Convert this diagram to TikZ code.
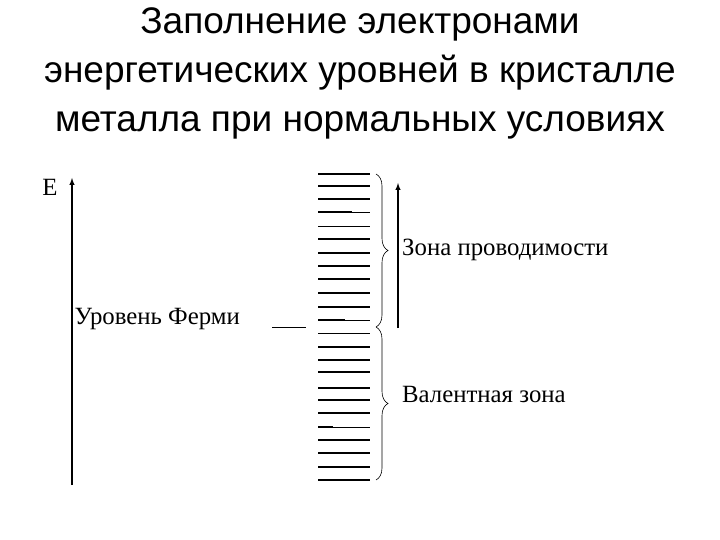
\documentclass[tikz,border=0pt]{standalone}
\usepackage{fontspec}
\setmainfont{Liberation Serif}
\newfontfamily\titlefont{Liberation Sans}
\usetikzlibrary{decorations.pathreplacing}
\begin{document}
\begin{tikzpicture}[x=1pt,y=-1pt,
  lvl/.style={line width=1.6pt},
  thinlvl/.style={line width=0.6pt},
  lbl/.style={font=\fontsize{24.8}{27}\selectfont, inner sep=0pt},
  br/.style={decorate,decoration={brace,amplitude=12pt},line width=0.6pt}]
\useasboundingbox (0,0) rectangle (720,540);
\node[font=\titlefont\fontsize{37}{49}\selectfont, align=center, anchor=north] (title) at (360,4)
  {Заполнение электронами\\энергетических уровней  в кристалле\\металла при нормальных условиях};
\coordinate (a0) at (72,485); \coordinate (a1) at (72,178);
\draw[line width=1.4pt,-latex] (a0) -- (a1);
\node[lbl] (E) at (50,187) {E};
\foreach \y in {174,186,199,239,253,266,279,293,307,347,360,372,388,400,413,440,453,467,480}
  \draw[lvl] (318,\y) -- (370,\y);
\draw[lvl] (318,212) -- (352,212); \draw[thinlvl] (352,212) -- (370,212);
\draw[thinlvl] (318,226) -- (370,226);
\draw[lvl] (318,320) -- (345,320); \draw[thinlvl] (345,320) -- (370,320);
\draw[thinlvl] (318,333) -- (370,333);
\draw[lvl] (318,427) -- (333,427); \draw[thinlvl] (333,427) -- (370,427);
\coordinate (f0) at (272,327); \coordinate (f1) at (306,327);
\draw[thinlvl] (f0) -- (f1);
\node[lbl, anchor=east] (fermi) at (240,319) {Уровень Ферми};
\coordinate (b0) at (376,174); \coordinate (b1) at (376,327); \coordinate (b2) at (376,480);
\draw[br] (b0) -- (b1);
\draw[br] (b1) -- (b2);
\coordinate (r0) at (398,328); \coordinate (r1) at (398,183);
\draw[line width=1.4pt,-latex] (r0) -- (r1);
\node[lbl, anchor=west] (cond) at (402,250) {Зона проводимости};
\node[lbl, anchor=west] (val) at (402,394) {Валентная зона};
\end{tikzpicture}
\end{document}
